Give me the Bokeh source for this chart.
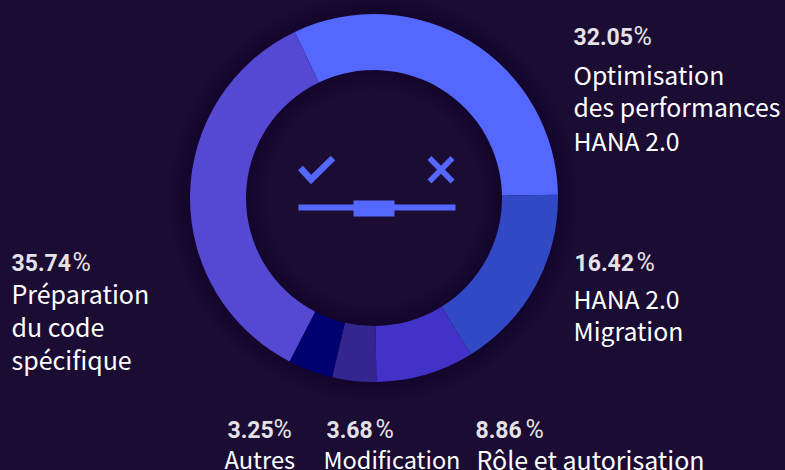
from math import radians
from bokeh.plotting import figure
from bokeh.embed import file_html
from bokeh.resources import INLINE
from bokeh.core.properties import value

W, H = 785, 470
BG = "#1b0c33"
categories = ["Optimisation des performances HANA 2.0", "HANA 2.0 Migration", "Rôle et autorisation",
              "Modification", "Autres", "Préparation du code spécifique"]
# slice sizes as drawn in the picture (they differ a little from the printed percentages)
slice_shares = [31.8, 16.44, 8.64, 3.86, 3.94, 35.32]
colors = ["#5468ff", "#3149c4", "#4232c7", "#33268f", "#000070", "#5548d3"]
pct_labels = ["32.05", "16.42", "8.86", "3.68", "3.25", "35.74"]
pct_x = [573, 574, 475, 326, 227, 11]
pct_base = [36, 262, 429, 429, 429, 262]
pct_sign_x = [633, 636, 525, 375, 273, 72]
text_lines = [["Optimisation", "des performances", "HANA 2.0"], ["HANA 2.0", "Migration"],
              ["Rôle et autorisation"], ["Modification"], ["Autres"],
              ["Préparation", "du code", "spécifique"]]
text_x = [573, 573, 476, 323, 224, 11]
text_base = [[73, 105, 139], [297, 329], [458], [458], [458], [292, 325, 358]]
text_size = [24.8, 24.8, 25, 23.5, 23.7, 25]

p = figure(width=W, height=H, x_range=(0, W), y_range=(H, 0), output_backend="svg", toolbar_location=None,
           background_fill_color=BG, border_fill_color=BG, min_border=0, outline_line_color=None)
p.axis.visible = False
p.grid.visible = False

CX, CY = 373.5, 197.5
# soft shadow round the ring
for i in range(1, 8):
    p.annulus(x=[CX], y=[CY], inner_radius=128 - 3 * i, outer_radius=184 + 3 * i,
              fill_color="#000000", fill_alpha=0.02, line_color=None)

a = radians(115.5)
total = sum(slice_shares)
for s, c in zip(slice_shares, colors):
    b = a - radians(360 * s / total)
    p.annular_wedge(x=[CX], y=[CY], inner_radius=128, outer_radius=184, start_angle=a, end_angle=b,
                    direction="clock", fill_color=c, line_color=None)
    a = b

ICON = "#5468ff"
p.line([300, 310.5, 332.5], [167.5, 179, 157.5], line_color=ICON, line_width=6.5, line_join="miter")
p.line([429, 452], [157.5, 181], line_color=ICON, line_width=5.5)
p.line([452, 429], [157.5, 181], line_color=ICON, line_width=5.5)
p.line([298, 455], [207, 207], line_color=ICON, line_width=6)
p.quad(left=[353], right=[394], top=[200], bottom=[216], fill_color=ICON, line_color=None)

for lab, x, y, sx in zip(pct_labels, pct_x, pct_base, pct_sign_x):
    p.text(x=[x], y=[y], text=[lab], text_font=value("Roboto"), text_font_style="bold",
           text_font_size="23px", text_color="#e4e2e6", text_baseline="alphabetic")
    p.text(x=[sx], y=[y], text=["%"], text_font=value("Roboto"),
           text_font_size="25px", text_color="#e4e2e6", text_baseline="alphabetic")
for lines, x, ys, size in zip(text_lines, text_x, text_base, text_size):
    for line, y in zip(lines, ys):
        p.text(x=[x], y=[y], text=[line], text_font=value("Noto Sans CJK SC"), text_font_size=f"{size}px",
               text_color="#ffffff", text_baseline="alphabetic")

html = file_html(p, INLINE)
html = html.replace("<head>", f"<head><style>html,body{{margin:0;padding:0;background:{BG};overflow:hidden}}</style>", 1)
open("out.html", "w").write(html)
